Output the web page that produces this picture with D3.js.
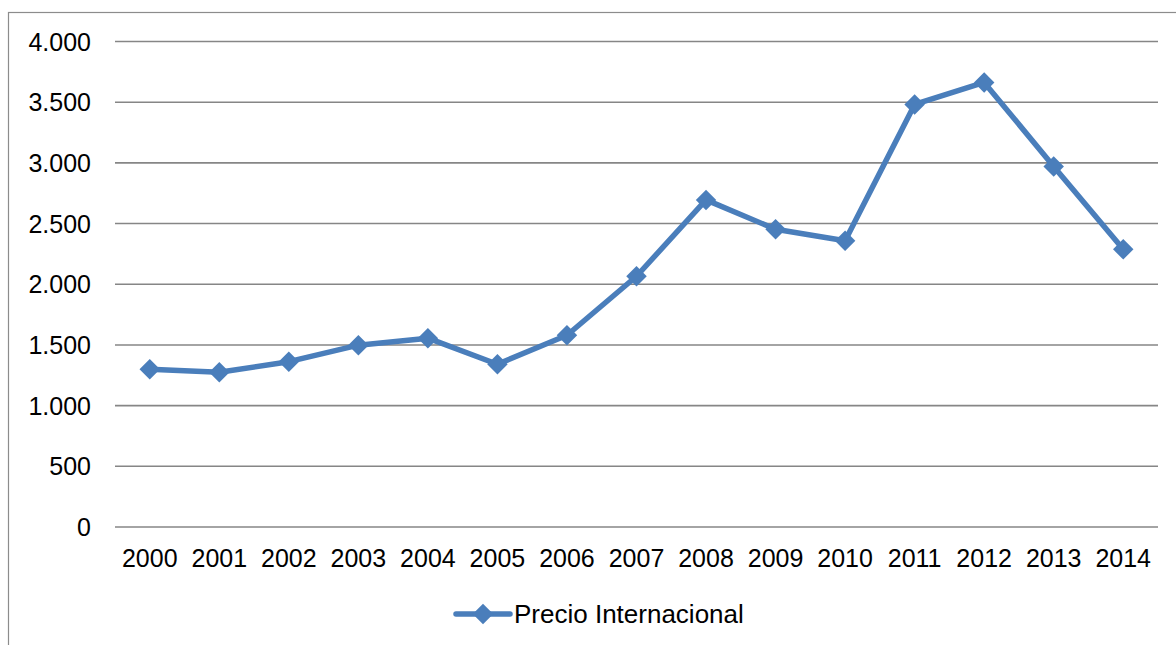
<!DOCTYPE html>
<html><head><meta charset="utf-8">
<script src="https://cdn.jsdelivr.net/npm/d3@7"></script>
<style>body{margin:0;background:#fff}svg{display:block}text{font-family:"Liberation Sans",Arial,sans-serif;fill:#000}</style>
</head><body><svg id="c" width="1176" height="645"></svg>
<script>
const years = ["2000","2001","2002","2003","2004","2005","2006","2007","2008","2009","2010","2011","2012","2013","2014"];
const precio = [1300,1275,1362,1498,1556,1341,1580,2066,2695,2453,2358,3481,3663,2971,2288];
const yTicks = [0,500,1000,1500,2000,2500,3000,3500,4000];
const seriesName = "Precio Internacional";

const svg = d3.select("#c");
const color = "#4a7ebb";
svg.append("rect").attr("x",8.5).attr("y",12.5).attr("width",1200).attr("height",700)
  .attr("fill","none").attr("stroke","#8c8c8c").attr("stroke-width",1.2);

const x = d3.scaleBand().domain(years).range([115,1158]);
const y = d3.scaleLinear().domain([0,4000]).range([527,41.5]);
const fmt = d => d3.format(",")(d).replace(/,/g,".");
const fs = 25;

const g = svg.append("g");
g.selectAll("line.grid").data(yTicks).join("line")
  .attr("x1",115).attr("x2",1158).attr("y1",d=>y(d)).attr("y2",d=>y(d))
  .attr("stroke","#868686").attr("stroke-width",1.6);
g.selectAll("text.yl").data(yTicks).join("text")
  .attr("x",91).attr("y",d=>y(d)).attr("dy","0.36em").attr("text-anchor","end")
  .attr("font-size",fs).text(fmt);
g.selectAll("text.xl").data(years).join("text")
  .attr("x",d=>x(d)+x.bandwidth()/2).attr("y",558).attr("dy","0.36em").attr("text-anchor","middle")
  .attr("font-size",fs).text(d=>d);

const line = d3.line().x((d,i)=>x(years[i])+x.bandwidth()/2).y(d=>y(d));
g.append("path").datum(precio).attr("d",line).attr("fill","none")
  .attr("stroke",color).attr("stroke-width",5.5).attr("stroke-linejoin","round");
const diamond = d3.symbol().type(d3.symbolSquare).size(210);
g.selectAll("path.m").data(precio).join("path")
  .attr("d",diamond()).attr("fill",color)
  .attr("transform",(d,i)=>`translate(${x(years[i])+x.bandwidth()/2},${y(d)}) rotate(45)`);

const lg = svg.append("g");
lg.append("line").attr("x1",456).attr("x2",510).attr("y1",614).attr("y2",614)
  .attr("stroke",color).attr("stroke-width",5.5).attr("stroke-linecap","round");
lg.append("path").attr("d",diamond()).attr("fill",color).attr("transform","translate(483,614) rotate(45)");
lg.append("text").attr("x",514).attr("y",614).attr("dy","0.36em").attr("font-size",26).text(seriesName);
</script></body></html>
